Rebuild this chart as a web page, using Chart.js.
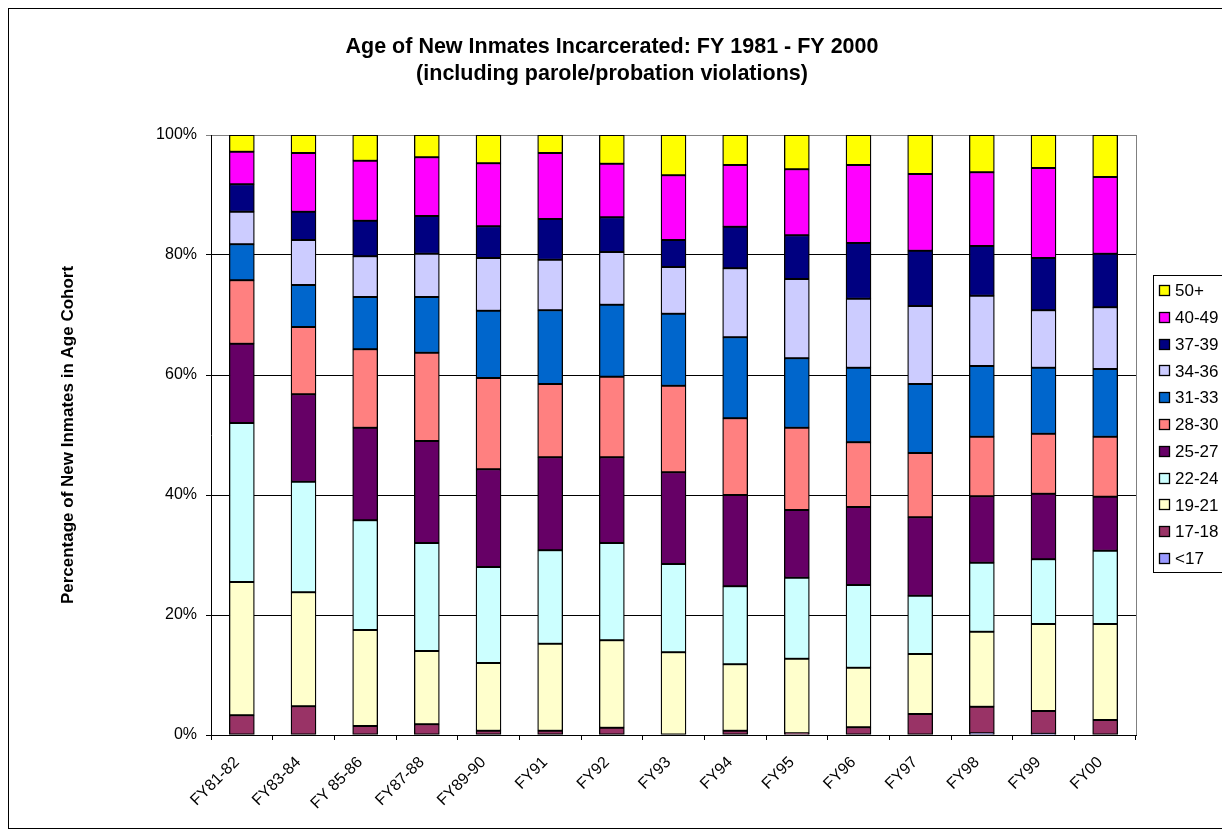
<!DOCTYPE html>
<html><head><meta charset="utf-8">
<script src="https://cdn.jsdelivr.net/npm/chart.js@4.4.0/dist/chart.umd.min.js"></script>
<style>html,body{margin:0;padding:0;background:#fff;overflow:hidden}#wrap{width:1222px;height:836px;position:relative}</style>
</head><body><div id="wrap"><canvas id="c"></canvas></div>
<script>
const categories = ['FY81-82','FY83-84','FY 85-86','FY87-88','FY89-90','FY91','FY92','FY93','FY94','FY95','FY96','FY97','FY98','FY99','FY00'];
const ageGroups = ['<17','17-18','19-21','22-24','25-27','28-30','31-33','34-36','37-39','40-49','50+'];
const under17  = [0,0,0,0,0,0,0,0,0,0,0,0,0.3,0.2,0];
const age17_18 = [3.3,4.8,1.5,1.8,0.7,0.7,1.2,0,0.7,0.3,1.3,3.5,4.4,3.8,2.5];
const age19_21 = [22.2,19.0,16.0,12.2,11.3,14.5,14.6,13.8,11.1,12.4,9.9,10.0,12.5,14.5,16.0];
const age22_24 = [26.5,18.4,18.3,18.0,16.0,15.6,16.2,14.7,13.0,13.5,13.8,9.7,11.5,10.8,12.2];
const age25_27 = [13.2,14.6,15.4,17.0,16.3,15.5,14.3,15.3,15.2,11.3,13.0,13.1,11.1,10.9,9.0];
const age28_30 = [10.6,11.2,13.1,14.7,15.2,12.2,13.4,14.4,12.8,13.7,10.8,10.7,9.9,10.0,10.0];
const age31_33 = [6.0,7.0,8.7,9.3,11.2,12.3,12.0,12.0,13.5,11.6,12.4,11.5,11.8,11.0,11.3];
const age34_36 = [5.4,7.5,6.8,7.2,8.8,8.4,8.8,7.8,11.5,13.2,11.5,13.0,11.7,9.6,10.3];
const age37_39 = [4.6,4.7,5.9,6.3,5.3,6.8,5.8,4.5,6.9,7.3,9.3,9.2,8.3,8.7,8.9];
const age40_49 = [5.4,9.8,10.0,9.8,10.5,11.0,8.9,10.8,10.3,11.0,13.0,12.8,12.3,15.0,12.8];
const age50plus = [2.8,3.0,4.3,3.7,4.7,3.0,4.8,6.7,5.0,5.7,5.0,6.5,6.2,5.5,7.0];
const yTickLabels = ['0%','20%','40%','60%','80%','100%'];
const seriesValues = [under17,age17_18,age19_21,age22_24,age25_27,age28_30,age31_33,age34_36,age37_39,age40_49,age50plus];
const seriesColors = ['#9999FF','#993366','#FFFFCC','#CCFFFF','#660066','#FF8080','#0066CC','#CCCCFF','#000080','#FF00FF','#FFFF00'];

const totals = categories.map((c,i)=>seriesValues.reduce((s,a)=>s+a[i],0));
const FONT = "'Liberation Sans', Arial, Helvetica, sans-serif";
Chart.defaults.font.family = FONT;
Chart.defaults.color = '#000';

const datasets = ageGroups.map((g,k)=>({
  label: g,
  data: seriesValues[k].map((v,i)=>v/totals[i]*100),
  backgroundColor: seriesColors[k],
  borderColor: '#000',
  borderWidth: 1.3,
  borderSkipped: false,
  barThickness: 25
}));

const decor = {
  id:'decor',
  beforeDraw(chart){
    const ctx = chart.ctx;
    ctx.save();
    ctx.fillStyle='#fff'; ctx.fillRect(0,0,chart.width,chart.height);
    ctx.strokeStyle='#000'; ctx.lineWidth=1;
    ctx.strokeRect(8.5,8.5,1230,820);
    ctx.restore();
  },
  afterDraw(chart){
    const ctx = chart.ctx, a = chart.chartArea;
    ctx.save();
    ctx.strokeStyle='#808080'; ctx.lineWidth=1;
    ctx.beginPath(); ctx.moveTo(Math.round(a.right)+0.5,a.top); ctx.lineTo(Math.round(a.right)+0.5,a.bottom); ctx.stroke();
    // title
    ctx.fillStyle='#000'; ctx.textAlign='center'; ctx.textBaseline='middle';
    ctx.font = "bold 21.5px " + FONT;
    ctx.fillText('Age of New Inmates Incarcerated: FY 1981 - FY 2000', 612, 47);
    ctx.fillText('(including parole/probation violations)', 612, 74);
    // legend
    const lx=1153.5, ly=275.5;
    ctx.strokeStyle='#000';
    ctx.strokeRect(lx,ly,100,297);
    ctx.font = "17px " + FONT; ctx.textAlign='left';
    const ds = chart.data.datasets.slice().reverse();
    ds.forEach((d,i)=>{
      const cy = 290.5 + i*26.8;
      ctx.fillStyle=d.backgroundColor;
      ctx.fillRect(1159, Math.round(cy-5.5), 11, 11);
      ctx.lineWidth=1.3;
      ctx.strokeRect(1159.5, Math.round(cy-5.5)+0.5, 10, 10);
      ctx.fillStyle='#000';
      ctx.fillText(d.label, 1175, cy+1);
    });
    ctx.restore();
  }
};

new Chart(document.getElementById('c'), {
  type:'bar',
  data:{labels:categories, datasets},
  options:{
    responsive:true, maintainAspectRatio:false, animation:false, devicePixelRatio:1,
    layout:{padding:{top:135,right:86,bottom:0,left:0}},
    plugins:{legend:{display:false}, title:{display:false}, tooltip:{enabled:false}},
    scales:{
      x:{stacked:true,
        ticks:{font:{size:16}, color:'#000', minRotation:45, maxRotation:45, autoSkip:false, padding:13, labelOffset:-5},
        grid:{drawOnChartArea:false, drawTicks:true, tickLength:5, color:'#000', offset:true},
        border:{color:'#000', width:1},
        afterFit:s=>{s.height=101;}
      },
      y:{stacked:true, min:0, max:100,
        ticks:{stepSize:20, font:{size:16}, color:'#000', padding:9, callback:(v)=>yTickLabels[Math.round(v/20)]},
        grid:{color:(c)=> (c.tick && c.tick.value===100) ? '#808080' : '#000', tickLength:5, lineWidth:1},
        border:{color:'#000', width:1},
        title:{display:true, text:'Percentage of New Inmates in Age Cohort', font:{size:17, weight:'bold'}, color:'#000', padding:{top:58,bottom:0}},
        afterFit:s=>{s.width=211;}
      }
    }
  },
  plugins:[decor]
});
</script></body></html>
